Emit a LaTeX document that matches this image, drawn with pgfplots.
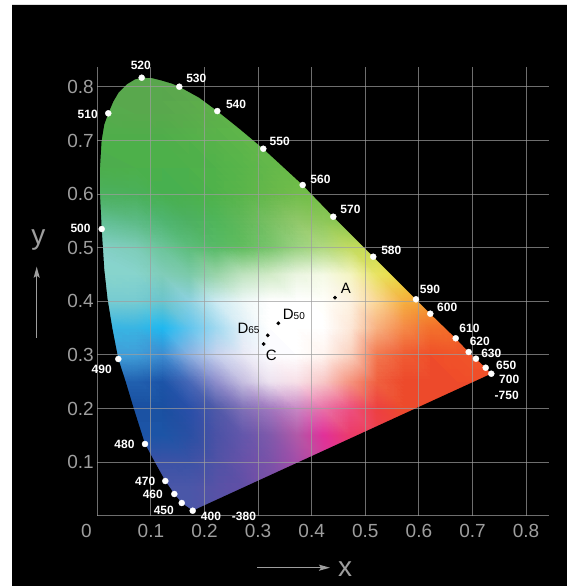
\documentclass[border=0pt]{standalone}
\usepackage{fontspec}
\setmainfont{Liberation Sans}
\usepackage{pgfplots}
\pgfplotsset{compat=1.18}
\usetikzlibrary{arrows.meta}
\definecolor{gridc}{RGB}{158,158,158}
\definecolor{tickc}{RGB}{158,158,158}
\tikzset{
  lab/.style={text=white, font=\bfseries\fontsize{12}{12}\selectfont, inner sep=0pt},
  blab/.style={text=black, font=\fontsize{15}{15}\selectfont, inner sep=0pt},
}
\begin{document}
\begin{tikzpicture}
\begin{axis}[
  at={(97.3pt,70.3pt)}, anchor=origin,
  view={0}{90},
  scale only axis, width=452pt, height=449pt,
  xmin=0, xmax=0.8433, ymin=0, ymax=0.8377, zmin=-1, zmax=1,
  clip=false,
  set layers,
  axis line style={draw=none},
  major tick length=0pt,
  xtick={0.1,0.2,0.3,0.4,0.5,0.6,0.7,0.8},
  xticklabels={0.1,0.2,0.3,0.4,0.5,0.6,0.7,0.8},
  extra x ticks={0}, extra x tick labels={0},
  extra x tick style={grid=major, xticklabel style={xshift=-11pt}},
  ytick={0,0.1,0.2,0.3,0.4,0.5,0.6,0.7,0.8},
  yticklabels={,0.1,0.2,0.3,0.4,0.5,0.6,0.7,0.8},
  ztick=\empty,
  grid=major,
  grid style={draw=gridc, draw opacity=0.7, line width=1.1pt},
  ticklabel style={font=\fontsize{19}{19}\selectfont, text=tickc},
  xticklabel style={yshift=-5pt},
  /pgf/number format/assume math mode=true,
]
% colour field
\addplot3[surf, shader=interp, mesh/color input=explicit, point meta=explicit symbolic, mesh/cols=16, on layer=axis background] table[meta=c] {
x y z c
-0.05 0.00 0 rgb=0.29,0.34,0.66
0.05 0.00 0 rgb=0.29,0.34,0.66
0.10 0.00 0 rgb=0.29,0.34,0.66
0.15 0.00 0 rgb=0.29,0.34,0.66
0.20 0.00 0 rgb=0.34,0.32,0.65
0.25 0.00 0 rgb=0.38,0.31,0.65
0.30 0.00 0 rgb=0.48,0.31,0.65
0.35 0.00 0 rgb=0.60,0.29,0.65
0.40 0.00 0 rgb=0.75,0.25,0.63
0.45 0.00 0 rgb=0.85,0.24,0.56
0.50 0.00 0 rgb=0.85,0.24,0.56
0.55 0.00 0 rgb=0.85,0.24,0.56
0.60 0.00 0 rgb=0.85,0.24,0.56
0.65 0.00 0 rgb=0.85,0.24,0.56
0.70 0.00 0 rgb=0.85,0.24,0.56
0.75 0.00 0 rgb=0.85,0.24,0.56
-0.05 0.05 0 rgb=0.29,0.34,0.66
0.05 0.05 0 rgb=0.29,0.34,0.66
0.10 0.05 0 rgb=0.29,0.34,0.66
0.15 0.05 0 rgb=0.29,0.34,0.66
0.20 0.05 0 rgb=0.34,0.32,0.65
0.25 0.05 0 rgb=0.38,0.31,0.65
0.30 0.05 0 rgb=0.48,0.31,0.65
0.35 0.05 0 rgb=0.60,0.29,0.65
0.40 0.05 0 rgb=0.75,0.25,0.63
0.45 0.05 0 rgb=0.85,0.24,0.56
0.50 0.05 0 rgb=0.85,0.24,0.56
0.55 0.05 0 rgb=0.85,0.24,0.56
0.60 0.05 0 rgb=0.85,0.24,0.56
0.65 0.05 0 rgb=0.85,0.24,0.56
0.70 0.05 0 rgb=0.85,0.24,0.56
0.75 0.05 0 rgb=0.85,0.24,0.56
-0.05 0.10 0 rgb=0.23,0.32,0.65
0.05 0.10 0 rgb=0.23,0.32,0.65
0.10 0.10 0 rgb=0.23,0.32,0.65
0.15 0.10 0 rgb=0.23,0.32,0.65
0.20 0.10 0 rgb=0.31,0.32,0.65
0.25 0.10 0 rgb=0.40,0.32,0.66
0.30 0.10 0 rgb=0.48,0.32,0.66
0.35 0.10 0 rgb=0.64,0.30,0.66
0.40 0.10 0 rgb=0.82,0.24,0.60
0.45 0.10 0 rgb=0.91,0.22,0.47
0.50 0.10 0 rgb=0.93,0.24,0.38
0.55 0.10 0 rgb=0.93,0.24,0.38
0.60 0.10 0 rgb=0.93,0.24,0.38
0.65 0.10 0 rgb=0.93,0.24,0.38
0.70 0.10 0 rgb=0.93,0.24,0.38
0.75 0.10 0 rgb=0.93,0.24,0.38
-0.05 0.15 0 rgb=0.11,0.33,0.65
0.05 0.15 0 rgb=0.11,0.33,0.65
0.10 0.15 0 rgb=0.11,0.33,0.65
0.15 0.15 0 rgb=0.16,0.31,0.64
0.20 0.15 0 rgb=0.29,0.32,0.65
0.25 0.15 0 rgb=0.39,0.34,0.67
0.30 0.15 0 rgb=0.50,0.35,0.67
0.35 0.15 0 rgb=0.69,0.35,0.66
0.40 0.15 0 rgb=0.88,0.19,0.60
0.45 0.15 0 rgb=0.92,0.23,0.42
0.50 0.15 0 rgb=0.93,0.25,0.31
0.55 0.15 0 rgb=0.93,0.27,0.22
0.60 0.15 0 rgb=0.93,0.27,0.22
0.65 0.15 0 rgb=0.93,0.27,0.22
0.70 0.15 0 rgb=0.93,0.27,0.22
0.75 0.15 0 rgb=0.93,0.27,0.22
-0.05 0.20 0 rgb=0.10,0.31,0.63
0.05 0.20 0 rgb=0.10,0.31,0.63
0.10 0.20 0 rgb=0.10,0.31,0.63
0.15 0.20 0 rgb=0.16,0.31,0.66
0.20 0.20 0 rgb=0.31,0.35,0.66
0.25 0.20 0 rgb=0.50,0.44,0.72
0.30 0.20 0 rgb=0.63,0.47,0.75
0.35 0.20 0 rgb=0.78,0.53,0.77
0.40 0.20 0 rgb=0.91,0.44,0.66
0.45 0.20 0 rgb=0.93,0.31,0.50
0.50 0.20 0 rgb=0.93,0.25,0.25
0.55 0.20 0 rgb=0.93,0.29,0.17
0.60 0.20 0 rgb=0.93,0.29,0.17
0.65 0.20 0 rgb=0.93,0.29,0.17
0.70 0.20 0 rgb=0.93,0.29,0.17
0.75 0.20 0 rgb=0.93,0.29,0.17
-0.05 0.25 0 rgb=0.13,0.38,0.69
0.05 0.25 0 rgb=0.13,0.38,0.69
0.10 0.25 0 rgb=0.11,0.33,0.66
0.15 0.25 0 rgb=0.28,0.41,0.72
0.20 0.25 0 rgb=0.56,0.56,0.80
0.25 0.25 0 rgb=0.78,0.75,0.88
0.30 0.25 0 rgb=0.93,0.89,0.94
0.35 0.25 0 rgb=0.97,0.88,0.91
0.40 0.25 0 rgb=0.97,0.78,0.78
0.45 0.25 0 rgb=0.96,0.58,0.50
0.50 0.25 0 rgb=0.94,0.38,0.25
0.55 0.25 0 rgb=0.93,0.29,0.17
0.60 0.25 0 rgb=0.93,0.29,0.17
0.65 0.25 0 rgb=0.94,0.30,0.16
0.70 0.25 0 rgb=0.94,0.31,0.16
0.75 0.25 0 rgb=0.94,0.31,0.16
-0.05 0.30 0 rgb=0.25,0.62,0.85
0.05 0.30 0 rgb=0.25,0.62,0.85
0.10 0.30 0 rgb=0.24,0.55,0.82
0.15 0.30 0 rgb=0.55,0.69,0.88
0.20 0.30 0 rgb=0.78,0.82,0.93
0.25 0.30 0 rgb=0.91,0.91,0.96
0.30 0.30 0 rgb=0.99,0.99,1
0.35 0.30 0 rgb=1,1,1
0.40 0.30 0 rgb=1,0.96,0.94
0.45 0.30 0 rgb=0.98,0.82,0.75
0.50 0.30 0 rgb=0.95,0.47,0.31
0.55 0.30 0 rgb=0.94,0.36,0.20
0.60 0.30 0 rgb=0.94,0.31,0.16
0.65 0.30 0 rgb=0.94,0.33,0.16
0.70 0.30 0 rgb=0.94,0.34,0.16
0.75 0.30 0 rgb=0.94,0.34,0.16
-0.05 0.35 0 rgb=0.22,0.71,0.89
0.05 0.35 0 rgb=0.22,0.71,0.89
0.10 0.35 0 rgb=0.12,0.72,0.94
0.15 0.35 0 rgb=0.38,0.77,0.93
0.20 0.35 0 rgb=0.63,0.85,0.94
0.25 0.35 0 rgb=0.88,0.94,0.97
0.30 0.35 0 rgb=1,1,1
0.35 0.35 0 rgb=1,1,1
0.40 0.35 0 rgb=1,1,1
0.45 0.35 0 rgb=0.99,0.91,0.85
0.50 0.35 0 rgb=0.97,0.69,0.50
0.55 0.35 0 rgb=0.96,0.54,0.28
0.60 0.35 0 rgb=0.95,0.44,0.17
0.65 0.35 0 rgb=0.95,0.42,0.16
0.70 0.35 0 rgb=0.95,0.38,0.16
0.75 0.35 0 rgb=0.95,0.38,0.16
-0.05 0.40 0 rgb=0.47,0.80,0.82
0.05 0.40 0 rgb=0.47,0.80,0.82
0.10 0.40 0 rgb=0.42,0.77,0.80
0.15 0.40 0 rgb=0.55,0.82,0.88
0.20 0.40 0 rgb=0.80,0.92,0.95
0.25 0.40 0 rgb=0.93,0.97,0.97
0.30 0.40 0 rgb=1,1,1
0.35 0.40 0 rgb=1,1,1
0.40 0.40 0 rgb=1,1,0.98
0.45 0.40 0 rgb=0.99,0.95,0.88
0.50 0.40 0 rgb=0.98,0.84,0.58
0.55 0.40 0 rgb=0.96,0.69,0.25
0.60 0.40 0 rgb=0.96,0.63,0.19
0.65 0.40 0 rgb=0.96,0.56,0.19
0.70 0.40 0 rgb=0.96,0.56,0.19
0.75 0.40 0 rgb=0.96,0.56,0.19
-0.05 0.45 0 rgb=0.53,0.83,0.80
0.05 0.45 0 rgb=0.53,0.83,0.80
0.10 0.45 0 rgb=0.50,0.80,0.72
0.15 0.45 0 rgb=0.48,0.79,0.66
0.20 0.45 0 rgb=0.60,0.83,0.66
0.25 0.45 0 rgb=0.75,0.89,0.75
0.30 0.45 0 rgb=0.82,0.92,0.78
0.35 0.45 0 rgb=0.92,0.96,0.88
0.40 0.45 0 rgb=0.96,0.98,0.90
0.45 0.45 0 rgb=0.96,0.96,0.76
0.50 0.45 0 rgb=0.91,0.89,0.38
0.55 0.45 0 rgb=0.91,0.85,0.22
0.60 0.45 0 rgb=0.93,0.82,0.21
0.65 0.45 0 rgb=0.93,0.82,0.21
0.70 0.45 0 rgb=0.93,0.82,0.21
0.75 0.45 0 rgb=0.93,0.82,0.21
-0.05 0.50 0 rgb=0.53,0.82,0.80
0.05 0.50 0 rgb=0.49,0.80,0.72
0.10 0.50 0 rgb=0.42,0.77,0.60
0.15 0.50 0 rgb=0.36,0.74,0.48
0.20 0.50 0 rgb=0.34,0.73,0.40
0.25 0.50 0 rgb=0.38,0.74,0.37
0.30 0.50 0 rgb=0.47,0.77,0.42
0.35 0.50 0 rgb=0.60,0.82,0.50
0.40 0.50 0 rgb=0.69,0.85,0.50
0.45 0.50 0 rgb=0.76,0.86,0.38
0.50 0.50 0 rgb=0.78,0.86,0.30
0.55 0.50 0 rgb=0.78,0.86,0.28
0.60 0.50 0 rgb=0.78,0.86,0.28
0.65 0.50 0 rgb=0.78,0.86,0.28
0.70 0.50 0 rgb=0.78,0.86,0.28
0.75 0.50 0 rgb=0.78,0.86,0.28
-0.05 0.55 0 rgb=0.40,0.76,0.62
0.05 0.55 0 rgb=0.36,0.73,0.52
0.10 0.55 0 rgb=0.31,0.71,0.44
0.15 0.55 0 rgb=0.30,0.69,0.38
0.20 0.55 0 rgb=0.31,0.71,0.35
0.25 0.55 0 rgb=0.38,0.72,0.35
0.30 0.55 0 rgb=0.47,0.75,0.38
0.35 0.55 0 rgb=0.56,0.78,0.41
0.40 0.55 0 rgb=0.55,0.78,0.35
0.45 0.55 0 rgb=0.53,0.77,0.29
0.50 0.55 0 rgb=0.56,0.78,0.28
0.55 0.55 0 rgb=0.56,0.78,0.28
0.60 0.55 0 rgb=0.56,0.78,0.28
0.65 0.55 0 rgb=0.56,0.78,0.28
0.70 0.55 0 rgb=0.56,0.78,0.28
0.75 0.55 0 rgb=0.56,0.78,0.28
-0.05 0.60 0 rgb=0.30,0.69,0.38
0.05 0.60 0 rgb=0.29,0.69,0.35
0.10 0.60 0 rgb=0.28,0.69,0.31
0.15 0.60 0 rgb=0.29,0.69,0.30
0.20 0.60 0 rgb=0.31,0.70,0.29
0.25 0.60 0 rgb=0.35,0.71,0.29
0.30 0.60 0 rgb=0.40,0.72,0.29
0.35 0.60 0 rgb=0.44,0.74,0.29
0.40 0.60 0 rgb=0.45,0.74,0.28
0.45 0.60 0 rgb=0.48,0.75,0.28
0.50 0.60 0 rgb=0.48,0.75,0.28
0.55 0.60 0 rgb=0.48,0.75,0.28
0.60 0.60 0 rgb=0.48,0.75,0.28
0.65 0.60 0 rgb=0.48,0.75,0.28
0.70 0.60 0 rgb=0.48,0.75,0.28
0.75 0.60 0 rgb=0.48,0.75,0.28
-0.05 0.65 0 rgb=0.30,0.68,0.30
0.05 0.65 0 rgb=0.30,0.69,0.29
0.10 0.65 0 rgb=0.30,0.69,0.29
0.15 0.65 0 rgb=0.31,0.69,0.29
0.20 0.65 0 rgb=0.32,0.70,0.29
0.25 0.65 0 rgb=0.35,0.71,0.29
0.30 0.65 0 rgb=0.39,0.72,0.29
0.35 0.65 0 rgb=0.42,0.73,0.28
0.40 0.65 0 rgb=0.44,0.74,0.28
0.45 0.65 0 rgb=0.44,0.74,0.28
0.50 0.65 0 rgb=0.44,0.74,0.28
0.55 0.65 0 rgb=0.44,0.74,0.28
0.60 0.65 0 rgb=0.44,0.74,0.28
0.65 0.65 0 rgb=0.44,0.74,0.28
0.70 0.65 0 rgb=0.44,0.74,0.28
0.75 0.65 0 rgb=0.44,0.74,0.28
-0.05 0.70 0 rgb=0.31,0.68,0.29
0.05 0.70 0 rgb=0.31,0.68,0.29
0.10 0.70 0 rgb=0.31,0.68,0.29
0.15 0.70 0 rgb=0.33,0.69,0.29
0.20 0.70 0 rgb=0.35,0.70,0.29
0.25 0.70 0 rgb=0.37,0.71,0.29
0.30 0.70 0 rgb=0.39,0.71,0.28
0.35 0.70 0 rgb=0.41,0.72,0.28
0.40 0.70 0 rgb=0.41,0.72,0.28
0.45 0.70 0 rgb=0.41,0.72,0.28
0.50 0.70 0 rgb=0.41,0.72,0.28
0.55 0.70 0 rgb=0.41,0.72,0.28
0.60 0.70 0 rgb=0.41,0.72,0.28
0.65 0.70 0 rgb=0.41,0.72,0.28
0.70 0.70 0 rgb=0.41,0.72,0.28
0.75 0.70 0 rgb=0.41,0.72,0.28
-0.05 0.75 0 rgb=0.34,0.67,0.30
0.05 0.75 0 rgb=0.35,0.66,0.30
0.10 0.75 0 rgb=0.35,0.66,0.30
0.15 0.75 0 rgb=0.36,0.67,0.30
0.20 0.75 0 rgb=0.37,0.69,0.29
0.25 0.75 0 rgb=0.38,0.70,0.29
0.30 0.75 0 rgb=0.38,0.71,0.29
0.35 0.75 0 rgb=0.38,0.71,0.29
0.40 0.75 0 rgb=0.38,0.71,0.29
0.45 0.75 0 rgb=0.38,0.71,0.29
0.50 0.75 0 rgb=0.38,0.71,0.29
0.55 0.75 0 rgb=0.38,0.71,0.29
0.60 0.75 0 rgb=0.38,0.71,0.29
0.65 0.75 0 rgb=0.38,0.71,0.29
0.70 0.75 0 rgb=0.38,0.71,0.29
0.75 0.75 0 rgb=0.38,0.71,0.29
-0.05 0.80 0 rgb=0.35,0.65,0.30
0.05 0.80 0 rgb=0.35,0.65,0.30
0.10 0.80 0 rgb=0.35,0.65,0.30
0.15 0.80 0 rgb=0.36,0.66,0.30
0.20 0.80 0 rgb=0.36,0.66,0.30
0.25 0.80 0 rgb=0.37,0.67,0.30
0.30 0.80 0 rgb=0.37,0.67,0.30
0.35 0.80 0 rgb=0.37,0.67,0.30
0.40 0.80 0 rgb=0.37,0.67,0.30
0.45 0.80 0 rgb=0.37,0.67,0.30
0.50 0.80 0 rgb=0.37,0.67,0.30
0.55 0.80 0 rgb=0.37,0.67,0.30
0.60 0.80 0 rgb=0.37,0.67,0.30
0.65 0.80 0 rgb=0.37,0.67,0.30
0.70 0.80 0 rgb=0.37,0.67,0.30
0.75 0.80 0 rgb=0.37,0.67,0.30
-0.05 0.85 0 rgb=0.35,0.65,0.30
0.05 0.85 0 rgb=0.35,0.65,0.30
0.10 0.85 0 rgb=0.35,0.65,0.30
0.15 0.85 0 rgb=0.35,0.65,0.30
0.20 0.85 0 rgb=0.35,0.65,0.30
0.25 0.85 0 rgb=0.35,0.65,0.30
0.30 0.85 0 rgb=0.35,0.65,0.30
0.35 0.85 0 rgb=0.35,0.65,0.30
0.40 0.85 0 rgb=0.35,0.65,0.30
0.45 0.85 0 rgb=0.35,0.65,0.30
0.50 0.85 0 rgb=0.35,0.65,0.30
0.55 0.85 0 rgb=0.35,0.65,0.30
0.60 0.85 0 rgb=0.35,0.65,0.30
0.65 0.85 0 rgb=0.35,0.65,0.30
0.70 0.85 0 rgb=0.35,0.65,0.30
0.75 0.85 0 rgb=0.35,0.65,0.30
};
% black surround with the horseshoe cut out (keyhole path, even-odd)
\addplot3[draw=none, fill=black, even odd rule, on layer=axis background] coordinates {
(-0.159,-0.1312,0) (0.8763,-0.1312,0) (0.8763,0.953,0) (-0.159,0.953,0) (-0.159,-0.1312,0)
(0.178,0.0093,0) (0.1575,0.0237,0) (0.1437,0.0405,0) (0.1269,0.0647,0) (0.110,0.095,0)
(0.089,0.1338,0) (0.068,0.200,0) (0.053,0.250,0) (0.0392,0.2924,0) (0.028,0.350,0)
(0.019,0.405,0) (0.013,0.460,0) (0.0082,0.5349,0) (0.005,0.600,0) (0.005,0.650,0)
(0.008,0.700,0) (0.013,0.730,0) (0.0205,0.7507,0) (0.030,0.773,0) (0.040,0.790,0)
(0.055,0.805,0) (0.070,0.814,0) (0.0828,0.8172,0) (0.100,0.817,0) (0.120,0.812,0)
(0.140,0.806,0) (0.153,0.8004,0) (0.190,0.780,0) (0.2239,0.755,0) (0.265,0.722,0)
(0.3097,0.6847,0) (0.3832,0.617,0) (0.4403,0.5578,0) (0.5149,0.4832,0) (0.5946,0.4037,0)
(0.6213,0.3769,0) (0.6687,0.331,0) (0.6929,0.3054,0) (0.7065,0.2929,0) (0.7246,0.2761,0)
(0.7351,0.2649,0) (0.178,0.0093,0) (-0.159,-0.1312,0)
};
% wavelength dots
\addplot3[only marks, mark=*, mark size=3pt, mark options={fill=white, draw=white}] coordinates {
(0.178,0.0093,0) (0.1575,0.0237,0) (0.1437,0.0405,0) (0.1269,0.0647,0) (0.089,0.1338,0)
(0.0392,0.2924,0) (0.0082,0.5349,0) (0.0205,0.7507,0) (0.0828,0.8172,0) (0.153,0.8004,0)
(0.2239,0.755,0) (0.3097,0.6847,0) (0.3832,0.617,0) (0.4403,0.5578,0) (0.5149,0.4832,0)
(0.5946,0.4037,0) (0.6213,0.3769,0) (0.6687,0.331,0) (0.6929,0.3054,0) (0.7065,0.2929,0)
(0.7246,0.2761,0) (0.7351,0.2649,0)
};
% illuminants
\addplot3[only marks, mark=*, mark size=1.7pt, mark options={fill=black, draw=black}] coordinates {
(0.4435,0.4067,0) (0.3377,0.359,0) (0.318,0.3366,0) (0.3104,0.3203,0)
};
\node[lab] at (axis cs:0.0812,0.8396,0) {520};
\node[lab] at (axis cs:0.1847,0.8153,0) {530};
\node[lab] at (axis cs:0.2588,0.7681,0) {540};
\node[lab] at (axis cs:0.3403,0.6985,0) {550};
\node[lab] at (axis cs:-0.0179,0.7485,0) {510};
\node[lab] at (axis cs:-0.0313,0.5353,0) {500};
\node[lab] at (axis cs:0.0082,0.2728,0) {490};
\node[lab] at (axis cs:0.4164,0.6278,0) {560};
\node[lab] at (axis cs:0.4724,0.5709,0) {570};
\node[lab] at (axis cs:0.5485,0.4951,0) {580};
\node[lab] at (axis cs:0.6207,0.4215,0) {590};
\node[lab] at (axis cs:0.6528,0.3888,0) {600};
\node[lab] at (axis cs:0.6944,0.3502,0) {610};
\node[lab] at (axis cs:0.7136,0.3254,0) {620};
\node[lab] at (axis cs:0.7351,0.3030,0) {630};
\node[lab] at (axis cs:0.7629,0.2806,0) {650};
\node[lab] at (axis cs:0.7685,0.2537,0) {700};
\node[lab] at (axis cs:0.7638,0.2252,0) {-750};
\node[lab] at (axis cs:0.0507,0.1338,0) {480};
\node[lab] at (axis cs:0.0894,0.0642,0) {470};
\node[lab] at (axis cs:0.1035,0.0405,0) {460};
\node[lab] at (axis cs:0.1241,0.0097,0) {450};
\node[lab] at (axis cs:0.2121,-0.0009,0) {400};
\node[lab] at (axis cs:0.2737,-0.0009,0) {-380};
\node[blab] at (axis cs:0.464,0.4243,0) {A};
\node[blab] at (axis cs:0.3244,0.2993,0) {C};
\node[blab, anchor=base west] at (axis cs:0.3459,0.3664,0) {D{\fontsize{10}{10}\selectfont 50}};
\node[blab, anchor=base west] at (axis cs:0.2612,0.3403,0) {D{\fontsize{10}{10}\selectfont 65}};
\end{axis}
\draw[tickc, line width=1.3pt, -{Stealth[length=11pt,width=6pt,inset=2pt]}] (36.7pt,248pt) -- (36.7pt,319.3pt);
\draw[tickc, line width=1.3pt, -{Stealth[length=11pt,width=6pt,inset=2pt]}] (257pt,18.3pt) -- (330pt,18.3pt);
\node[text=tickc, font=\fontsize{28}{28}\selectfont, inner sep=0pt] at (345pt,16.8pt) {x};
\node[text=tickc, font=\fontsize{28}{28}\selectfont, inner sep=0pt] at (38.3pt,346pt) {y};
\pgfresetboundingbox
\path[use as bounding box] (0pt,0pt) rectangle (567pt,586pt);
\end{tikzpicture}
\end{document}
